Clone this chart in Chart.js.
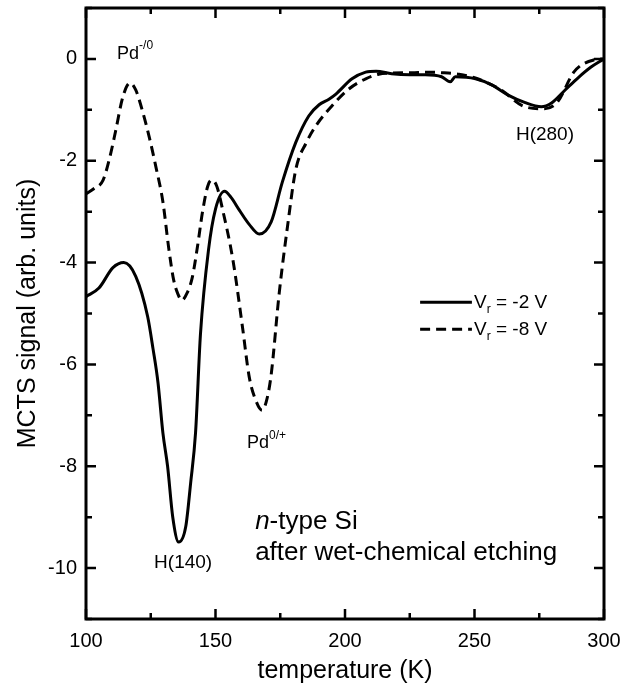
<!DOCTYPE html>
<html lang="en">
<head>
<meta charset="UTF-8">
<title>MCTS signal vs temperature</title>
<script src="https://cdn.jsdelivr.net/npm/chart.js"></script>
<style>
  html, body { margin: 0; padding: 0; background: #fff; }
  #wrap { width: 636px; height: 687px; }
</style>
</head>
<body>
<div id="wrap"><canvas id="mcts" width="636" height="687"></canvas></div>
<script>
// V_r = -2 V (solid line)
const tempSolid = [100, 105, 110.4, 114.6, 119.2, 123.8, 125.9, 127.8, 129.7, 131.5, 133.5, 135.8, 138.5, 140.4, 142.3, 144.2, 147.3, 150, 153.5, 156, 159.2, 163, 166.9, 171.5, 175.8, 181, 186, 190, 193.8, 196.5, 202.7, 208, 212, 218, 225, 231, 237.3, 240.6, 242.6, 250.4, 256.6, 263, 269.6, 275.8, 279.6, 285, 290, 295, 300];
const signalSolid = [-4.67, -4.5, -4.1, -4.0, -4.27, -5.06, -5.7, -6.36, -7.35, -8.0, -9.0, -9.49, -9.19, -8.33, -7.34, -5.4, -3.75, -2.95, -2.6, -2.72, -2.97, -3.25, -3.44, -3.2, -2.42, -1.64, -1.12, -0.9, -0.79, -0.69, -0.39, -0.26, -0.24, -0.29, -0.31, -0.31, -0.35, -0.45, -0.35, -0.39, -0.51, -0.71, -0.86, -0.94, -0.87, -0.61, -0.37, -0.16, 0];

// V_r = -8 V (dashed line)
const tempDashed = [100, 103, 106.6, 109.2, 111.5, 114.2, 117, 119.2, 122, 124.4, 126.9, 129.7, 132, 133.8, 135.5, 137, 139, 141, 143, 145, 147, 148.5, 150.5, 152.7, 156.7, 160.4, 163, 165.5, 168, 169.5, 171.4, 174.6, 177.8, 181, 185, 188.8, 195, 201.5, 208, 213, 218, 226, 232, 237, 244, 250, 260, 269, 277, 282, 288.5, 296, 300];
const signalDashed = [-2.65, -2.55, -2.38, -1.93, -1.4, -0.75, -0.47, -0.61, -1.06, -1.53, -2.1, -2.81, -3.74, -4.33, -4.62, -4.74, -4.6, -4.3, -3.7, -3.0, -2.5, -2.38, -2.5, -2.95, -3.94, -5.26, -6.24, -6.7, -6.9, -6.75, -6.24, -4.6, -3.29, -2.17, -1.65, -1.31, -0.92, -0.59, -0.39, -0.3, -0.28, -0.27, -0.26, -0.27, -0.3, -0.37, -0.6, -0.93, -0.98, -0.85, -0.25, -0.02, 0];

const xTickLabels = [100, 150, 200, 250, 300];
const yTickLabels = [0, -2, -4, -6, -8, -10];
const seriesNames = ['-2 V', '-8 V'];

const FONT = '"Liberation Sans", Arial, Helvetica, sans-serif';

function toPoints(xs, ys) {
    return xs.map((t, i) => ({ x: t, y: ys[i] }));
}

// text with a raised (sup) or lowered (sub) part
function richText(ctx, x, y, parts) {
    let cx = x;
    parts.forEach(p => {
        ctx.font = (p.italic ? 'italic ' : '') + p.size + 'px ' + FONT;
        ctx.fillText(p.text, cx, y + (p.shift || 0));
        cx += ctx.measureText(p.text).width;
    });
    return cx;
}

const frameTicks = {
    id: 'frameTicks',
    afterDatasetsDraw(chart) {
        const { ctx, chartArea: a, scales: { x, y } } = chart;
        ctx.save();
        ctx.strokeStyle = '#000';
        ctx.lineWidth = 2.5;
        ctx.beginPath();
        x.ticks.forEach(t => {
            const px = x.getPixelForValue(t.value);
            const len = xTickLabels.includes(t.value) ? 10 : 6;
            ctx.moveTo(px, a.bottom); ctx.lineTo(px, a.bottom - len);
            ctx.moveTo(px, a.top); ctx.lineTo(px, a.top + len);
        });
        y.ticks.forEach(t => {
            const py = y.getPixelForValue(t.value);
            const len = yTickLabels.includes(t.value) ? 10 : 6;
            ctx.moveTo(a.left, py); ctx.lineTo(a.left + len, py);
            ctx.moveTo(a.right, py); ctx.lineTo(a.right - len, py);
        });
        ctx.stroke();
        ctx.lineWidth = 3;
        ctx.strokeRect(a.left, a.top, a.width, a.height);
        ctx.restore();
    }
};

const annotations = {
    id: 'annotations',
    afterDraw(chart) {
        const { ctx, scales: { x, y } } = chart;
        const X = v => x.getPixelForValue(v);
        const Y = v => y.getPixelForValue(v);
        ctx.save();
        ctx.fillStyle = '#000';
        ctx.textBaseline = 'alphabetic';
        ctx.textAlign = 'left';

        richText(ctx, X(112), Y(0), [{ text: 'Pd', size: 18 }, { text: '-/0', size: 12, shift: -10 }]);
        richText(ctx, X(162.2), Y(-7.64), [{ text: 'Pd', size: 18 }, { text: '0/+', size: 12, shift: -9 }]);

        ctx.textBaseline = 'middle';
        ctx.textAlign = 'center';
        ctx.font = '19px ' + FONT;
        ctx.fillText('H(140)', X(137.5), Y(-9.9));
        ctx.fillText('H(280)', X(277.2), Y(-1.48));

        ctx.textAlign = 'left';
        richText(ctx, X(165.3), Y(-9.09), [{ text: 'n', size: 26, italic: true }, { text: '-type Si', size: 26 }]);
        ctx.font = '26px ' + FONT;
        ctx.fillText('after wet-chemical etching', X(165.3), Y(-9.7));

        // legend
        const rows = [Y(-4.78), Y(-5.31)];
        chart.data.datasets.forEach((ds, i) => {
            ctx.strokeStyle = '#000';
            ctx.lineWidth = 3;
            ctx.setLineDash(ds.borderDash || []);
            ctx.beginPath();
            ctx.moveTo(X(229), rows[i]);
            ctx.lineTo(X(249), rows[i]);
            ctx.stroke();
            ctx.setLineDash([]);
            ctx.textBaseline = 'middle';
            richText(ctx, X(249.8), rows[i], [
                { text: 'V', size: 19 },
                { text: 'r', size: 12, shift: 7 },
                { text: ' = ' + seriesNames[i], size: 19 }
            ]);
        });
        ctx.restore();
    }
};

new Chart(document.getElementById('mcts'), {
    type: 'line',
    data: {
        datasets: [
            {
                label: 'Vr = ' + seriesNames[0],
                data: toPoints(tempSolid, signalSolid),
                borderColor: '#000',
                borderWidth: 3,
                pointRadius: 0,
                cubicInterpolationMode: 'monotone',
                fill: false
            },
            {
                label: 'Vr = ' + seriesNames[1],
                data: toPoints(tempDashed, signalDashed),
                borderColor: '#000',
                borderWidth: 3,
                borderDash: [10, 6],
                pointRadius: 0,
                cubicInterpolationMode: 'monotone',
                fill: false
            }
        ]
    },
    options: {
        responsive: false,
        animation: false,
        layout: { padding: { top: 8, right: 32, left: 0, bottom: 0 } },
        plugins: { legend: { display: false }, tooltip: { enabled: false } },
        scales: {
            x: {
                type: 'linear',
                min: 100,
                max: 300,
                grid: { display: false, drawTicks: false },
                border: { display: false },
                ticks: {
                    stepSize: 25,
                    autoSkip: false,
                    maxRotation: 0,
                    padding: 10,
                    color: '#000',
                    font: { family: FONT, size: 20 },
                    callback: v => xTickLabels.includes(v) ? String(v) : ''
                },
                title: {
                    display: true,
                    text: 'temperature (K)',
                    color: '#000',
                    font: { family: FONT, size: 25 },
                    padding: { top: 0, bottom: 1 }
                },
                afterFit: s => { s.height = 68; s.paddingLeft = 0; s.paddingRight = 0; }
            },
            y: {
                type: 'linear',
                min: -11,
                max: 1,
                grid: { display: false, drawTicks: false },
                border: { display: false },
                ticks: {
                    stepSize: 1,
                    autoSkip: false,
                    padding: 9,
                    color: '#000',
                    font: { family: FONT, size: 20 },
                    callback: v => yTickLabels.includes(v) ? String(v) : ''
                },
                title: {
                    display: true,
                    text: 'MCTS signal (arb. units)',
                    color: '#000',
                    font: { family: FONT, size: 25 },
                    padding: { top: 13, bottom: 0 }
                },
                afterFit: s => { s.width = 86; s.paddingTop = 0; s.paddingBottom = 0; }
            }
        }
    },
    plugins: [frameTicks, annotations]
});
</script>
</body>
</html>
